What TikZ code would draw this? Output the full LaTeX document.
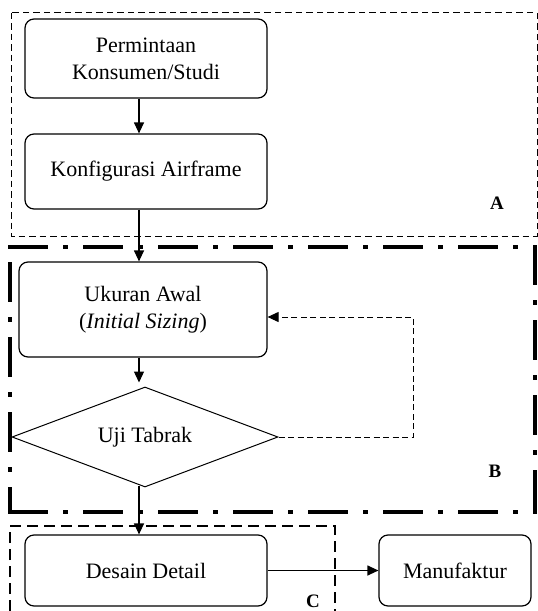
\documentclass[tikz,border=0pt]{standalone}
\usepackage{fontspec}
\setmainfont{Liberation Serif}
\usetikzlibrary{arrows.meta,shapes.geometric,calc}
\begin{document}
\begin{tikzpicture}[x=1pt,y=-1pt,
  procbox/.style={draw,line width=1.2pt,rounded corners=9pt,align=center,inner sep=0pt,font=\fontsize{22}{27}\selectfont},
  decbox/.style={draw,diamond,line width=1pt,inner sep=0pt,aspect=2.66,font=\fontsize{22}{27}\selectfont},
  arr/.style={line width=1.2pt,-{Triangle[length=11pt,width=10pt]}},
  fbarr/.style={line width=1pt,dash pattern=on 6pt off 3.5pt,-{Triangle[length=11pt,width=10pt]}},
  lbl/.style={font=\fontsize{19}{22}\selectfont\bfseries,inner sep=0pt},
  regA/.style={line width=1pt,dash pattern=on 6.5pt off 4pt},
  regB/.style={line width=4pt,dash pattern=on 40pt off 15pt on 5pt off 15pt},
  regC/.style={line width=1.3pt,dash pattern=on 11pt off 6pt}
]
\useasboundingbox (0,0) rectangle (538,611);

% regions
\draw[regA] (11,12.7) rectangle (537,236);
\draw[regB] (8,247) -- (537,247);
\draw[regB] (8,512) -- (537,512);
\draw[regB,dash phase=60pt] (10,247) -- (10,514);
\draw[regB] (535,245) -- (535,514);
\draw[regC] (10,611) -- (10,526) -- (335,526) -- (335,611);

% nodes
\node[procbox,minimum width=242pt,minimum height=79pt] (b1) at (146,58.5) {Permintaan\\Konsumen/Studi};
\node[procbox,minimum width=242pt,minimum height=75pt] (b2) at (146,171.5) {Konfigurasi Airframe};
\node[procbox,minimum width=248pt,minimum height=95pt] (b3) at (143,309.5) {Ukuran Awal\\(\textit{Initial Sizing})};
\node[decbox,minimum width=266pt,minimum height=100pt] (dia) at (145,437) {Uji Tabrak};
\node[procbox,minimum width=242pt,minimum height=71pt] (b4) at (146,570.5) {Desain Detail};
\node[procbox,minimum width=152pt,minimum height=71pt] (b5) at (455,570.5) {Manufaktur};

\node[lbl] (la) at (497,203) {A};
\node[lbl] (lb) at (495,471) {B};
\node[lbl] (lc) at (313,601) {C};

% connectors
\coordinate (ax) at (139,0);
\coordinate (fb) at (413,317);
\draw[arr] (b1.south -| ax) -- (b2.north -| ax);
\draw[arr] (b2.south -| ax) -- (b3.north -| ax);
\draw[arr] (b3.south -| ax) -- ($(dia.north -| ax)+(0,-4)$);
\draw[arr] ($(dia.south -| ax)+(0,-2)$) -- (b4.north -| ax);
\draw[fbarr] (dia.east) -| (fb) -- (fb -| b3.east);
\draw[arr] (b4.east) -- (b5.west);
\end{tikzpicture}
\end{document}
